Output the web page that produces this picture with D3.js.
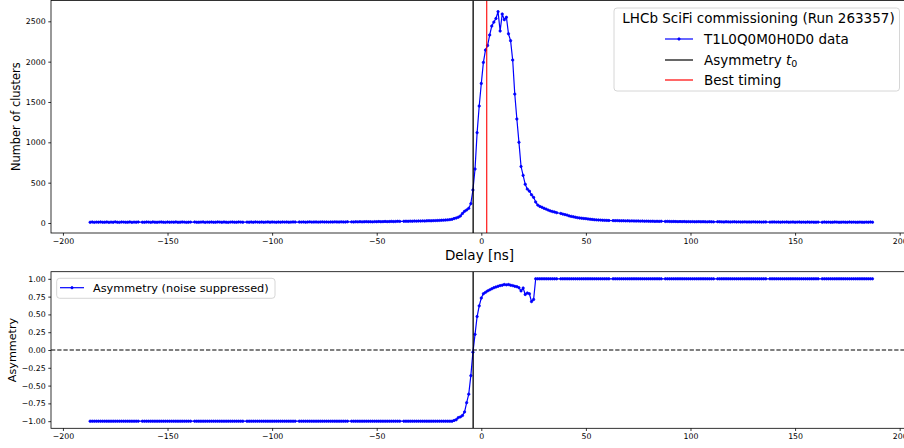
<!DOCTYPE html>
<html>
<head>
<meta charset="utf-8">
<script src="https://cdn.jsdelivr.net/npm/d3@7"></script>
<style>
  body { margin: 0; background: #fff; }
  svg { display: block; }
  text { font-family: "DejaVu Sans", sans-serif; }
</style>
</head>
<body>
<div id="chart"></div>
<script>
// Delay scan (ns), one row per 25 ns block (one step missing between blocks)
var delays = [
  -187,-186,-185,-184,-183,-182,-181,-180,-179,-178,-177,-176,-175,-174,-173,-172,-171,-170,-169,-168,-167,-166,-165,-164,
  -162,-161,-160,-159,-158,-157,-156,-155,-154,-153,-152,-151,-150,-149,-148,-147,-146,-145,-144,-143,-142,-141,-140,-139,
  -137,-136,-135,-134,-133,-132,-131,-130,-129,-128,-127,-126,-125,-124,-123,-122,-121,-120,-119,-118,-117,-116,-115,-114,
  -112,-111,-110,-109,-108,-107,-106,-105,-104,-103,-102,-101,-100,-99,-98,-97,-96,-95,-94,-93,-92,-91,-90,-89,
  -87,-86,-85,-84,-83,-82,-81,-80,-79,-78,-77,-76,-75,-74,-73,-72,-71,-70,-69,-68,-67,-66,-65,-64,
  -62,-61,-60,-59,-58,-57,-56,-55,-54,-53,-52,-51,-50,-49,-48,-47,-46,-45,-44,-43,-42,-41,-40,-39,
  -37,-36,-35,-34,-33,-32,-31,-30,-29,-28,-27,-26,-25,-24,-23,-22,-21,-20,-19,-18,-17,-16,-15,-14,
  -13,-12,-11,-10,-9,-8,-7,-6,-5,-4,-3,-2,-1,0,1,2,3,4,5,6,7,8,9,10,
  11,12,13,14,15,16,17,18,19,20,21,22,23,24,25,26,27,28,29,30,31,32,33,34,
  35,36,38,39,40,41,42,43,44,45,46,47,48,49,50,51,52,53,54,55,56,57,58,59,
  60,61,63,64,65,66,67,68,69,70,71,72,73,74,75,76,77,78,79,80,81,82,83,84,
  85,86,88,89,90,91,92,93,94,95,96,97,98,99,100,101,102,103,104,105,106,107,108,109,
  110,111,113,114,115,116,117,118,119,120,121,122,123,124,125,126,127,128,129,130,131,132,133,134,
  135,136,138,139,140,141,142,143,144,145,146,147,148,149,150,151,152,153,154,155,156,157,158,159,
  160,161,163,164,165,166,167,168,169,170,171,172,173,174,175,176,177,178,179,180,181,182,183,184,185,186,187
];

// Number of clusters per delay (T1L0Q0M0H0D0)
var clusters = [
  9,12,8,11,10,13,9,10,12,8,11,9,14,10,8,12,11,9,10,13,8,11,10,12,
  10,9,12,11,8,13,10,9,11,12,10,8,12,9,11,10,13,9,10,12,11,8,10,11,
  12,9,10,11,13,8,11,10,12,9,10,13,11,9,12,10,8,11,12,10,9,13,11,10,
  11,10,12,9,13,11,10,12,9,11,13,10,12,11,9,12,10,13,11,12,10,11,13,12,
  12,11,13,10,12,14,11,12,13,11,12,14,12,13,11,13,12,14,13,12,14,13,12,15,
  14,13,15,14,16,14,15,17,15,16,14,17,16,18,16,17,19,17,18,20,18,19,21,20,
  21,22,21,23,22,24,23,25,24,26,25,27,28,27,29,30,31,32,34,35,37,39,42,46,
  55,62,72,87,118,145,162,182,240,409,669,1120,1450,1730,1991,2144,2200,2330,2441,2490,2535,2620,2380,2590,
  2520,2550,2345,2260,2020,1598,1289,1000,700,590,480,420,395,350,318,260,222,205,195,182,172,160,150,142,
  136,128,118,110,104,98,88,82,77,71,66,62,59,56,54,50,47,44,41,39,37,36,34,33,
  32,31,30,29,30,28,27,28,26,27,25,26,25,24,25,23,24,22,23,22,21,22,20,21,
  20,21,19,20,19,18,19,18,17,18,17,18,16,17,16,17,15,16,17,15,16,15,14,16,
  15,14,16,15,14,13,15,14,13,14,15,13,14,12,13,14,12,13,12,14,13,12,13,11,
  12,13,11,12,13,11,12,10,12,11,13,10,11,12,10,11,12,10,11,9,12,10,11,10,
  10,11,9,12,10,11,9,10,12,11,9,10,11,10,9,12,10,11,9,10,11,10,9,11,10,12,10
];

// Asymmetry (noise suppressed) per delay
var asymmetry = [
  -1,-1,-1,-1,-1,-1,-1,-1,-1,-1,-1,-1,-1,-1,-1,-1,-1,-1,-1,-1,-1,-1,-1,-1,
  -1,-1,-1,-1,-1,-1,-1,-1,-1,-1,-1,-1,-1,-1,-1,-1,-1,-1,-1,-1,-1,-1,-1,-1,
  -1,-1,-1,-1,-1,-1,-1,-1,-1,-1,-1,-1,-1,-1,-1,-1,-1,-1,-1,-1,-1,-1,-1,-1,
  -1,-1,-1,-1,-1,-1,-1,-1,-1,-1,-1,-1,-1,-1,-1,-1,-1,-1,-1,-1,-1,-1,-1,-1,
  -1,-1,-1,-1,-1,-1,-1,-1,-1,-1,-1,-1,-1,-1,-1,-1,-1,-1,-1,-1,-1,-1,-1,-1,
  -1,-1,-1,-1,-1,-1,-1,-1,-1,-1,-1,-1,-1,-1,-1,-1,-1,-1,-1,-1,-1,-1,-1,-1,
  -1,-1,-1,-1,-1,-1,-1,-1,-1,-1,-1,-1,-1,-1,-1,-1,-1,-1,-1,-1,-1,-1,-1,-1,
  -0.99,-0.98,-0.95,-0.94,-0.92,-0.87,-0.74,-0.62,-0.36,-0.03,0.22,0.47,0.62,0.73,0.79,0.81,0.83,0.845,0.86,0.875,0.885,0.895,0.905,0.91,
  0.92,0.915,0.92,0.91,0.905,0.895,0.89,0.875,0.83,0.87,0.78,0.80,0.79,0.68,0.71,1,1,1,1,1,1,1,1,1,
  1,1,1,1,1,1,1,1,1,1,1,1,1,1,1,1,1,1,1,1,1,1,1,1,
  1,1,1,1,1,1,1,1,1,1,1,1,1,1,1,1,1,1,1,1,1,1,1,1,
  1,1,1,1,1,1,1,1,1,1,1,1,1,1,1,1,1,1,1,1,1,1,1,1,
  1,1,1,1,1,1,1,1,1,1,1,1,1,1,1,1,1,1,1,1,1,1,1,1,
  1,1,1,1,1,1,1,1,1,1,1,1,1,1,1,1,1,1,1,1,1,1,1,1,
  1,1,1,1,1,1,1,1,1,1,1,1,1,1,1,1,1,1,1,1,1,1,1,1,1,1,1
];

var asymT0 = -3.9;
var bestTiming = 2.6;

var xTicks = [-200, -150, -100, -50, 0, 50, 100, 150, 200];
var clusterTicks = [0, 500, 1000, 1500, 2000, 2500];
var asymTicks = [-1, -0.75, -0.5, -0.25, 0, 0.25, 0.5, 0.75, 1];

var svgWidth = 904;
var svgHeight = 448;

var topBox = { top: 0.5, bottom: 233 };
var botBox = { top: 271.7, bottom: 428.3 };
var left = 51, right = 911.6;

var svg = d3.select("#chart")
  .append("svg")
  .attr("width", svgWidth)
  .attr("height", svgHeight);

var scanData = delays.map(function(d, i) {
  return { delay: d, clusters: clusters[i], asym: asymmetry[i] };
});

var x = d3.scaleLinear().domain([-205.7, 205.7]).range([left, right]);
var yTop = d3.scaleLinear().domain([-124, 2758]).range([topBox.bottom, topBox.top]);
var yBot = d3.scaleLinear().domain([-1.1, 1.1]).range([botBox.bottom, botBox.top]);

var blue = "#0000ff";
var tickFont = "7.8px";

function styleAxis(g) {
  g.select(".domain").remove();
  g.selectAll(".tick line").attr("stroke", "#000").attr("stroke-width", 0.8);
  g.selectAll(".tick text").attr("fill", "#000").style("font-size", tickFont)
    .style("font-family", "DejaVu Sans");
}

function panel(box, y, yTicks, yFormat, clipId) {
  var g = svg.append("g");

  g.append("clipPath").attr("id", clipId)
    .append("rect")
    .attr("x", left).attr("y", box.top)
    .attr("width", right - left).attr("height", box.bottom - box.top);

  g.append("g")
    .attr("transform", "translate(0," + box.bottom + ")")
    .call(d3.axisBottom(x).tickValues(xTicks).tickFormat(d3.format("d"))
      .tickSize(2.7).tickPadding(2.4).tickSizeOuter(0))
    .call(styleAxis);

  g.append("g")
    .attr("transform", "translate(" + left + ",0)")
    .call(d3.axisLeft(y).tickValues(yTicks).tickFormat(d3.format(yFormat))
      .tickSize(2.7).tickPadding(2.6).tickSizeOuter(0))
    .call(styleAxis);

  var plot = g.append("g").attr("clip-path", "url(#" + clipId + ")");

  g.append("rect")
    .attr("x", left).attr("y", box.top)
    .attr("width", right - left).attr("height", box.bottom - box.top)
    .attr("fill", "none")
    .attr("stroke", "#000")
    .attr("stroke-width", 0.8);

  return plot;
}

function drawSeries(plot, y, key) {
  plot.append("path")
    .datum(scanData)
    .attr("fill", "none")
    .attr("stroke", blue)
    .attr("stroke-width", 1.2)
    .attr("d", d3.line().x(d => x(d.delay)).y(d => y(d[key])));

  plot.selectAll("circle." + key)
    .data(scanData)
    .enter()
    .append("circle")
    .attr("class", key)
    .attr("cx", d => x(d.delay))
    .attr("cy", d => y(d[key]))
    .attr("r", 1.2)
    .attr("fill", blue)
    .attr("stroke", blue)
    .attr("stroke-width", 0.75);
}

// ---- top panel: number of clusters
var topPlot = panel(topBox, yTop, clusterTicks, "d", "clipTop");
drawSeries(topPlot, yTop, "clusters");

topPlot.append("line")
  .attr("x1", x(asymT0)).attr("x2", x(asymT0))
  .attr("y1", topBox.top).attr("y2", topBox.bottom)
  .attr("stroke", "#000").attr("stroke-width", 1.3);

topPlot.append("line")
  .attr("x1", x(bestTiming)).attr("x2", x(bestTiming))
  .attr("y1", topBox.top).attr("y2", topBox.bottom)
  .attr("stroke", "#ff0000").attr("stroke-width", 1.1);

// ---- bottom panel: asymmetry
var botPlot = panel(botBox, yBot, asymTicks, ".2f", "clipBot");

botPlot.append("line")
  .attr("x1", left).attr("x2", right)
  .attr("y1", yBot(0)).attr("y2", yBot(0))
  .attr("stroke", "#000").attr("stroke-width", 1.2)
  .attr("stroke-dasharray", "4.3,1.9");

drawSeries(botPlot, yBot, "asym");

botPlot.append("line")
  .attr("x1", x(asymT0)).attr("x2", x(asymT0))
  .attr("y1", botBox.top).attr("y2", botBox.bottom)
  .attr("stroke", "#000").attr("stroke-width", 1.3);

// ---- axis labels
svg.append("text")
  .attr("x", 479.5).attr("y", 259.5)
  .attr("text-anchor", "middle")
  .style("font-size", "13.5px")
  .text("Delay [ns]");

svg.append("text")
  .attr("transform", "translate(20," + ((topBox.top + topBox.bottom) / 2) + ") rotate(-90)")
  .attr("text-anchor", "middle")
  .style("font-size", "11.4px")
  .text("Number of clusters");

svg.append("text")
  .attr("transform", "translate(15.5," + ((botBox.top + botBox.bottom) / 2) + ") rotate(-90)")
  .attr("text-anchor", "middle")
  .style("font-size", "11.2px")
  .text("Asymmetry");

// ---- legends
function handle(g, x1, x2, yy, color, marker) {
  g.append("line")
    .attr("x1", x1).attr("x2", x2).attr("y1", yy).attr("y2", yy)
    .attr("stroke", color).attr("stroke-width", 1.2);
  if (marker) {
    g.append("circle")
      .attr("cx", (x1 + x2) / 2).attr("cy", yy).attr("r", 1.2)
      .attr("fill", color).attr("stroke", color).attr("stroke-width", 0.75);
  }
}

var legTop = svg.append("g");
legTop.append("rect")
  .attr("x", 614).attr("y", 8).attr("width", 285.5).attr("height", 83)
  .attr("rx", 3).attr("fill", "#fff").attr("fill-opacity", 0.8)
  .attr("stroke", "#cccccc").attr("stroke-width", 0.8);
legTop.append("text")
  .attr("x", 758.5).attr("y", 23)
  .attr("text-anchor", "middle")
  .style("font-size", "13.5px")
  .text("LHCb SciFi commissioning (Run 263357)");

handle(legTop, 665, 693, 39, blue, true);
legTop.append("text").attr("x", 704).attr("y", 44)
  .style("font-size", "13.5px").text("T1L0Q0M0H0D0 data");

handle(legTop, 665, 693, 60, "#000", false);
var t0Text = legTop.append("text").attr("x", 704).attr("y", 64.5)
  .style("font-size", "13.5px");
t0Text.append("tspan").text("Asymmetry ");
t0Text.append("tspan").style("font-style", "italic").text("t");
t0Text.append("tspan").attr("dy", 2.6).style("font-size", "9.5px").text("0");

handle(legTop, 665, 693, 80, "#ff0000", false);
legTop.append("text").attr("x", 704).attr("y", 85)
  .style("font-size", "13.5px").text("Best timing");

var legBot = svg.append("g");
legBot.append("rect")
  .attr("x", 56.7).attr("y", 278.3).attr("width", 218.3).attr("height", 20)
  .attr("rx", 3).attr("fill", "#fff").attr("fill-opacity", 0.8)
  .attr("stroke", "#cccccc").attr("stroke-width", 0.8);
handle(legBot, 60, 84, 287.7, blue, true);
legBot.append("text").attr("x", 93).attr("y", 292.3)
  .style("font-size", "11.3px").text("Asymmetry (noise suppressed)");
</script>
</body>
</html>
